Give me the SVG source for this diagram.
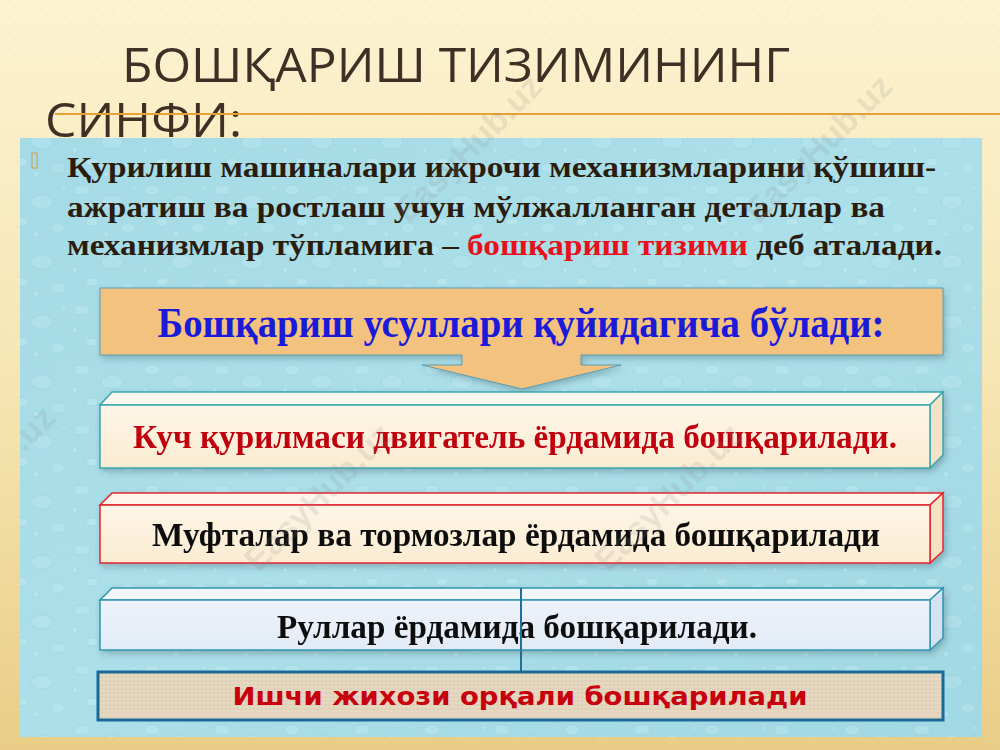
<svg xmlns="http://www.w3.org/2000/svg" width="1000" height="750" viewBox="0 0 1000 750">
  <defs>
    <linearGradient id="bgGrad" x1="0" y1="0" x2="0" y2="1">
      <stop offset="0" stop-color="#fdf3d2"/>
      <stop offset="0.5" stop-color="#f7e6b4"/>
      <stop offset="1" stop-color="#e9cd86"/>
    </linearGradient>
    <pattern id="stripes" width="8" height="8" patternUnits="userSpaceOnUse" patternTransform="rotate(30)">
      <rect width="8" height="8" fill="none"/>
      <line x1="0" y1="0" x2="0" y2="8" stroke="#ead59e" stroke-width="1" opacity="0.35"/>
    </pattern>
    <linearGradient id="panelGrad" x1="0" y1="0" x2="1" y2="1">
      <stop offset="0" stop-color="#a5dbe6"/>
      <stop offset="0.5" stop-color="#abdfe9"/>
      <stop offset="1" stop-color="#a0d8e3"/>
    </linearGradient>
    <pattern id="drops" width="70" height="60" patternUnits="userSpaceOnUse">
      <ellipse cx="12" cy="10" rx="8" ry="5" fill="#c9eef5" stroke="#7fc0cf" stroke-width="0.7" opacity="0.35"/>
      <ellipse cx="42" cy="22" rx="11" ry="7" fill="#c4ecf3" stroke="#78bccc" stroke-width="0.7" opacity="0.3"/>
      <ellipse cx="22" cy="42" rx="6" ry="4" fill="#cdf0f6" stroke="#80c2d0" stroke-width="0.6" opacity="0.35"/>
      <ellipse cx="58" cy="48" rx="7" ry="5" fill="#c6edf4" stroke="#7bbecd" stroke-width="0.6" opacity="0.3"/>
      <circle cx="5" cy="30" r="2.5" fill="#d4f3f8" stroke="#86c6d3" stroke-width="0.5" opacity="0.35"/>
      <circle cx="64" cy="8" r="2" fill="#d4f3f8" stroke="#86c6d3" stroke-width="0.5" opacity="0.35"/>
      <circle cx="36" cy="54" r="2.5" fill="#d4f3f8" stroke="#86c6d3" stroke-width="0.5" opacity="0.35"/>
    </pattern>
    <linearGradient id="creamFront" x1="0" y1="0" x2="0" y2="1">
      <stop offset="0" stop-color="#fdf5e6"/>
      <stop offset="1" stop-color="#fbecd2"/>
    </linearGradient>
    <linearGradient id="blueFront" x1="0" y1="0" x2="0" y2="1">
      <stop offset="0" stop-color="#eef3fa"/>
      <stop offset="1" stop-color="#e2ebf6"/>
    </linearGradient>
    <pattern id="linen" width="4" height="4" patternUnits="userSpaceOnUse">
      <rect width="4" height="4" fill="#e7dac3"/>
      <line x1="0" y1="1" x2="4" y2="1" stroke="#d2c2a6" stroke-width="0.7" opacity="0.7"/>
      <line x1="2" y1="0" x2="2" y2="4" stroke="#d8c9ae" stroke-width="0.7" opacity="0.6"/>
    </pattern>
    <filter id="shadow" x="-5%" y="-20%" width="110%" height="150%">
      <feDropShadow dx="2" dy="3" stdDeviation="3" flood-color="#305060" flood-opacity="0.35"/>
    </filter>
    <style>
      .title { font-family: "Open Sans", "Noto Sans", "DejaVu Sans", sans-serif; font-size: 47px; fill: #3f3026; }
      .para { font-family: "Liberation Serif", "Times New Roman", serif; font-weight: bold; font-size: 30px; fill: #2b1d0e; }
      .red { fill: #e8101a; }
      .head { font-family: "Liberation Serif", "Times New Roman", serif; font-weight: bold; font-size: 42px; fill: #1a1ad8; }
      .boxt { font-family: "Liberation Serif", "Times New Roman", serif; font-weight: bold; font-size: 34px; fill: #111111; }
      .boxred { fill: #c00010; }
      .bott { font-family: "DejaVu Sans", "Verdana", sans-serif; font-weight: bold; font-size: 24px; fill: #c8000e; }
      .wm { font-family: "Liberation Sans", Arial, sans-serif; font-weight: bold; font-size: 34px; fill: #8a8a8a; opacity: 0.16; }
      .edgeTeal { stroke: #3aa6ae; stroke-width: 1.5; }
      .edgeRed { stroke: #e2252e; stroke-width: 1.5; }
      .edgeBlue { stroke: #2f97b0; stroke-width: 1.5; }
    </style>
  </defs>

  <!-- background -->
  <rect x="0" y="0" width="1000" height="750" fill="url(#bgGrad)"/>
  <rect x="0" y="0" width="1000" height="750" fill="url(#stripes)"/>

  <!-- title -->
  <g id="title">
    <text class="title" x="122" y="82" textLength="668" lengthAdjust="spacingAndGlyphs">БОШҚАРИШ ТИЗИМИНИНГ</text>
    <text class="title" x="45" y="137" textLength="197" lengthAdjust="spacingAndGlyphs">СИНФИ:</text>
  </g>
  <line x1="55" y1="114" x2="1000" y2="114" stroke="#e9a035" stroke-width="2"/>

  <!-- content panel -->
  <g id="panel">
    <rect x="20" y="138" width="962" height="599" fill="url(#panelGrad)"/>
    <rect x="20" y="138" width="962" height="599" fill="url(#drops)"/>
  </g>

  <!-- paragraph -->
  <g id="intro">
    <rect x="32" y="153" width="5" height="15" fill="none" stroke="#c9a04a" stroke-width="1"/>
    <text class="para" x="67" y="177" textLength="869" lengthAdjust="spacingAndGlyphs">Қурилиш машиналари ижрочи механизмларини қўшиш-</text>
    <text class="para" x="67" y="217" textLength="818" lengthAdjust="spacingAndGlyphs">ажратиш ва ростлаш учун мўлжалланган деталлар ва</text>
    <text class="para" x="67" y="255" textLength="875" lengthAdjust="spacingAndGlyphs">механизмлар тўпламига – <tspan class="red">бошқариш тизими</tspan> деб аталади.</text>
  </g>

  <!-- header callout -->
  <g id="header">
    <path d="M100,288 H943 V355 H581 V365 H621 L522,389 L422,365 H462 V355 H100 Z" fill="#f4c27f" stroke="#5d9db0" stroke-width="1" filter="url(#shadow)"/>
    <text class="head" x="521" y="337" text-anchor="middle" textLength="727" lengthAdjust="spacingAndGlyphs">Бошқариш усуллари қуйидагича бўлади:</text>
  </g>

  <!-- connectors -->
  <g id="connectors">
    <line x1="521" y1="588" x2="521" y2="672" stroke="#1f6f9f" stroke-width="2"/>
  </g>

  <!-- box 1 -->
  <g id="box1" filter="url(#shadow)">
    <polygon points="100,405 112,392 943,392 930,405" fill="#fef8ec" class="edgeTeal"/>
    <polygon points="930,405 943,392 943,455 930,468" fill="#f3e3c6" class="edgeTeal"/>
    <rect x="100" y="405" width="830" height="63" fill="url(#creamFront)" class="edgeTeal"/>
    <text class="boxt boxred" x="515" y="448" text-anchor="middle" textLength="764" lengthAdjust="spacingAndGlyphs">Куч қурилмаси двигатель ёрдамида бошқарилади.</text>
  </g>

  <!-- box 2 -->
  <g id="box2" filter="url(#shadow)">
    <polygon points="100,505 112,493 943,493 930,505" fill="#fef6ea" class="edgeRed"/>
    <polygon points="930,505 943,493 943,551 930,563" fill="#f3e1c3" class="edgeRed"/>
    <rect x="100" y="505" width="830" height="58" fill="url(#creamFront)" class="edgeRed"/>
    <text class="boxt" x="516" y="546" text-anchor="middle" textLength="728" lengthAdjust="spacingAndGlyphs">Муфталар ва тормозлар ёрдамида бошқарилади</text>
  </g>

  <!-- box 3 -->
  <g id="box3" filter="url(#shadow)">
    <polygon points="100,600 112,588 943,588 930,600" fill="#f2f6fb" class="edgeBlue"/>
    <polygon points="930,600 943,588 943,638 930,650" fill="#d6e2ef" class="edgeBlue"/>
    <rect x="100" y="600" width="830" height="50" fill="url(#blueFront)" class="edgeBlue"/>
    <text class="boxt" x="517" y="638" text-anchor="middle" font-size="32" textLength="480" lengthAdjust="spacingAndGlyphs">Руллар ёрдамида бошқарилади.</text>
  </g>
  <line x1="521" y1="588" x2="521" y2="650" stroke="#1f6f9f" stroke-width="2"/>

  <!-- bottom box -->
  <g id="box4">
    <rect x="98" y="672" width="845" height="48" fill="url(#linen)" stroke="#1a6a98" stroke-width="3"/>
    <text class="bott" x="520" y="705" text-anchor="middle" textLength="575" lengthAdjust="spacingAndGlyphs">Ишчи жихози орқали бошқарилади</text>
  </g>

  <!-- watermarks -->
  <g id="watermarks">
    <text class="wm" x="468" y="160" text-anchor="middle" transform="rotate(-45 468 148)">EasyHub.uz</text>
    <text class="wm" x="818" y="160" text-anchor="middle" transform="rotate(-45 818 148)">EasyHub.uz</text>
    <text class="wm" x="318" y="509" text-anchor="middle" transform="rotate(-45 318 497)">EasyHub.uz</text>
    <text class="wm" x="668" y="509" text-anchor="middle" transform="rotate(-45 668 497)">EasyHub.uz</text>
    <text class="wm" x="32" y="440" text-anchor="middle" transform="rotate(-45 32 428)">.uz</text>
  </g>
</svg>
